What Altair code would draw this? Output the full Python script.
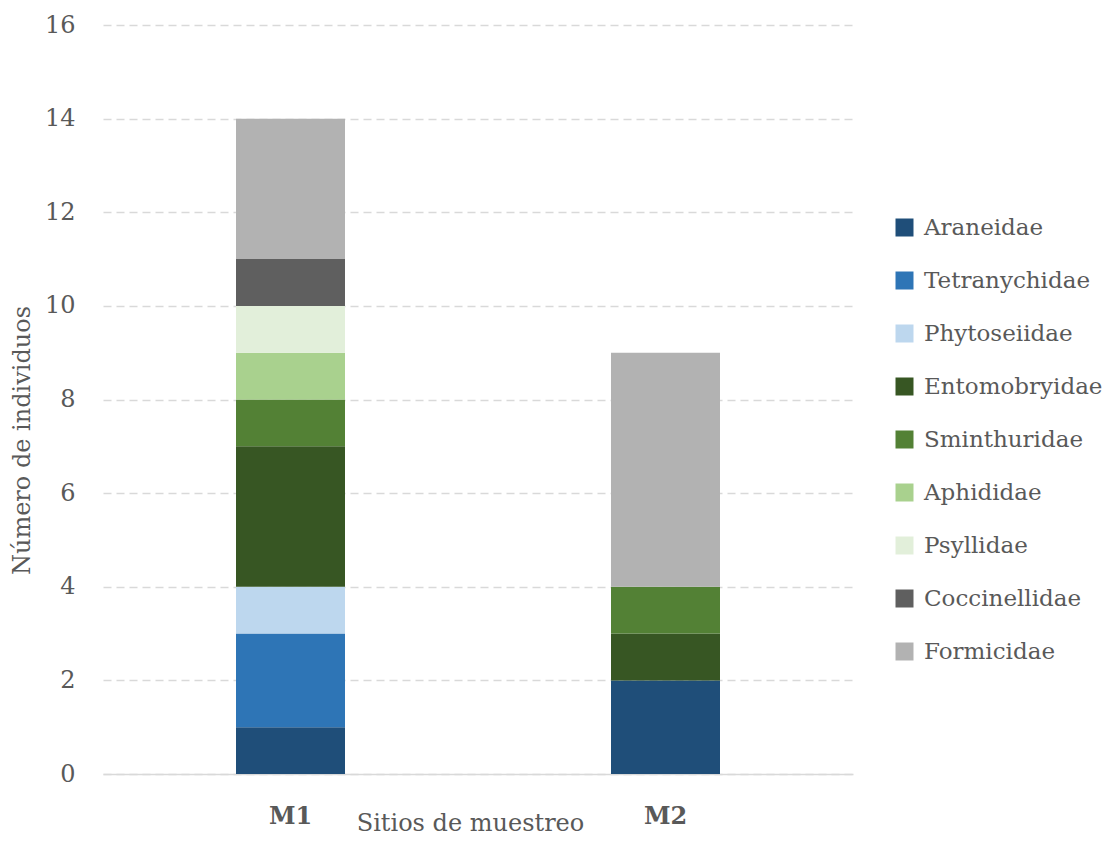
import altair as alt
import pandas as pd

families = ["Araneidae", "Tetranychidae", "Phytoseiidae", "Entomobryidae",
            "Sminthuridae", "Aphididae", "Psyllidae", "Coccinellidae", "Formicidae"]
colors = ["#1F4E79", "#2E75B6", "#BDD7EE", "#375623", "#538135",
          "#A9D18E", "#E2EFDA", "#5F5F5F", "#B2B2B2"]
sites = ["M1", "M2"]
m1_values = [1, 2, 1, 3, 1, 1, 1, 1, 3]
m2_values = [2, 0, 0, 1, 1, 0, 0, 0, 5]

rows = []
for site, vals in zip(sites, [m1_values, m2_values]):
    for i, (fam, v) in enumerate(zip(families, vals)):
        if v > 0:
            rows.append({"sitio": site, "familia": fam, "n": v, "orden": i})
df = pd.DataFrame(rows)

FONT = "DejaVu Serif"
TXT = "#595959"

chart = alt.Chart(df).mark_bar(size=109).encode(
    x=alt.X("sitio:N", sort=sites,
            scale=alt.Scale(paddingInner=0, paddingOuter=0),
            axis=alt.Axis(title="Sitios de muestreo", labelAngle=0, ticks=False,
                          labelFontWeight="bold", labelFontSize=24, labelColor=TXT,
                          labelFont=FONT, labelPadding=30,
                          domainColor="#D9D9D9", domainWidth=1.5,
                          titleFont=FONT, titleFontSize=24, titleColor=TXT,
                          titleFontWeight="normal", titleX=367, titleY=49,
                          titleBaseline="middle", titleAlign="center")),
    y=alt.Y("n:Q", stack="zero",
            scale=alt.Scale(domain=[0, 16], nice=False),
            axis=alt.Axis(title="Número de individuos", values=list(range(0, 17, 2)),
                          ticks=False, domain=False, labelFontSize=24, labelColor=TXT,
                          labelFont=FONT, labelPadding=28,
                          gridColor="#D9D9D9", gridDash=[8, 5], gridWidth=1.5,
                          titleFont=FONT, titleFontSize=24, titleColor=TXT,
                          titleFontWeight="normal", titleAngle=-90, titleX=-81,
                          titleY=415, titleBaseline="middle", titleAlign="center")),
    color=alt.Color("familia:N",
                    scale=alt.Scale(domain=families, range=colors),
                    legend=alt.Legend(title=None, orient="none", legendX=790, legendY=191,
                                      symbolType="square", symbolSize=324,
                                      symbolStrokeWidth=0, labelFontSize=23,
                                      labelFont=FONT, labelColor=TXT, labelOffset=8,
                                      rowPadding=29, padding=0, labelLimit=400)),
    order=alt.Order("orden:Q", sort="ascending"),
).properties(
    width=750, height=749,
    autosize=alt.AutoSizeParams(type="none"),
    padding={"left": 95, "top": 17, "right": 253, "bottom": 61},
).configure_view(stroke=None)

chart.save("out.html", embed_options={"renderer": "svg", "actions": False})
